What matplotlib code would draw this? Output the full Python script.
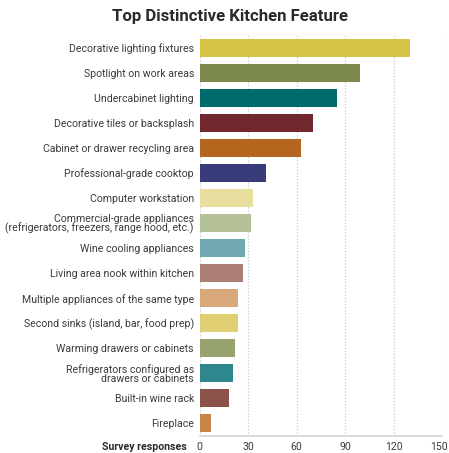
import matplotlib
matplotlib.use("Agg")
import matplotlib.pyplot as plt
import matplotlib.transforms as mtransforms
import numpy as np

plt.rcParams['font.family'] = ['Roboto', 'DejaVu Sans']

# data
features = [
    "Decorative lighting fixtures",
    "Spotlight on work areas",
    "Undercabinet lighting",
    "Decorative tiles or backsplash",
    "Cabinet or drawer recycling area",
    "Professional-grade cooktop",
    "Computer workstation",
    "Commercial-grade appliances\n(refrigerators, freezers, range hood, etc.)",
    "Wine cooling appliances",
    "Living area nook within kitchen",
    "Multiple appliances of the same type",
    "Second sinks (island, bar, food prep)",
    "Warming drawers or cabinets",
    "Refrigerators configured as\ndrawers or cabinets",
    "Built-in wine rack",
    "Fireplace",
]
responses = [130, 99, 85, 70, 63, 41, 33, 32, 28, 27, 24, 24, 22, 21, 18, 7]
colors = ["#D6C244", "#7B8A4C", "#006B6C", "#70282E", "#B5661E", "#3A3B7A",
          "#E8DE9E", "#B5C198", "#6FA8B0", "#AB7F75", "#D9A87A", "#DFCF72",
          "#97A36F", "#2D878C", "#8B524A", "#C98547"]
xticks = [0, 30, 60, 90, 120, 150]

fig = plt.figure(figsize=(4.49, 4.53), dpi=100)
ax = fig.add_axes([199.5 / 449, 1 - 436 / 453, (442 - 199.5) / 449, (436 - 35) / 453])

y = np.arange(len(features))
ax.barh(y, responses, height=0.72, color=colors, zorder=2)
ax.set_ylim(len(features) - 0.5, -0.5)
ax.set_xlim(0, 150)

ax.set_yticks(y)
ax.set_yticklabels(features, fontsize=7.6, color="#3a3a3a", linespacing=0.92)
ax.set_xticks(xticks)
ax.set_xticklabels([str(t) for t in xticks], fontsize=7.6, color="#3a3a3a")
ax.tick_params(axis="both", length=0)
ax.tick_params(axis="y", pad=4)
ax.tick_params(axis="x", pad=4)

# nudge the last tick label in so it stays inside the figure
last = ax.get_xticklabels()[-1]
last.set_transform(last.get_transform() +
                   mtransforms.ScaledTranslation(-3 / 100, 0, fig.dpi_scale_trans))

ax.grid(axis="x", color="#c8c8c8", linestyle=(0, (1, 1.5)), linewidth=0.9, zorder=0)
for s in ["top", "right", "left"]:
    ax.spines[s].set_visible(False)
ax.spines["bottom"].set_color("#d5d5d5")
ax.spines["bottom"].set_linewidth(1.2)

fig.text(187 / 449, 1 - 446.5 / 453, "Survey responses", ha="right", va="center",
         fontsize=7.6, fontweight="bold", color="#2a2a2a")
fig.text(230 / 449, 1 - 16 / 453, "Top Distinctive Kitchen Feature", ha="center",
         va="center", fontsize=12.1, fontweight="bold", color="#2a2a2a")

fig.savefig("out.png", dpi=100)
